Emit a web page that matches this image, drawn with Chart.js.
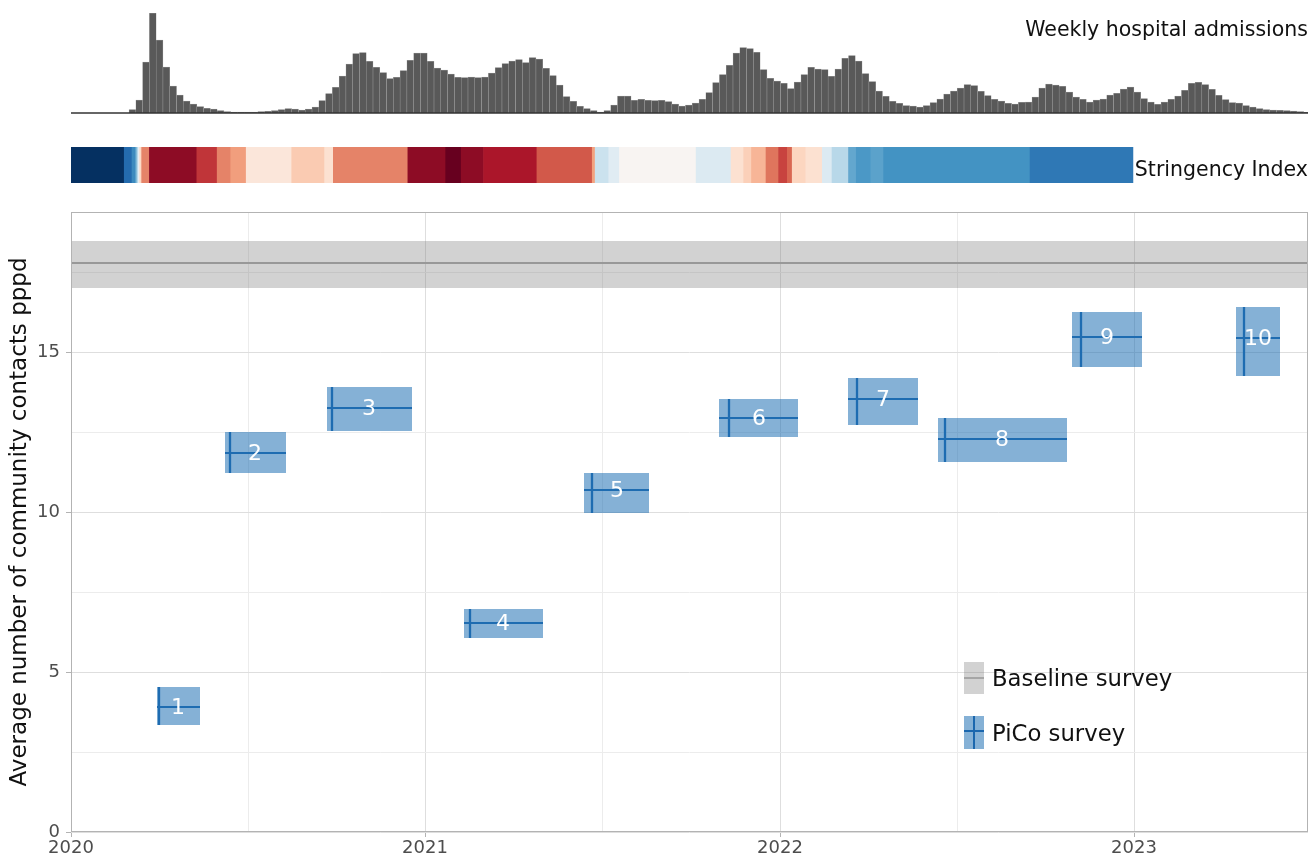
<!DOCTYPE html>
<html>
<head>
<meta charset="utf-8">
<script src="https://cdn.jsdelivr.net/npm/chart.js@4.4.1/dist/chart.umd.min.js"></script>
<style>
html,body{margin:0;padding:0;background:#fff;}
#wrap{position:relative;width:1312px;height:859px;overflow:hidden;font-family:'DejaVu Sans',sans-serif;}
#wrap canvas{position:absolute;left:0;}
.lbl{position:absolute;white-space:nowrap;line-height:1;color:#111;}
.glyph{position:absolute;}
</style>
</head>
<body>
<div id="wrap">
  <canvas id="hist" width="1312" height="120" style="top:0px"></canvas>
  <canvas id="strip" width="1312" height="50" style="top:140px"></canvas>
  <canvas id="main" width="1312" height="659" style="top:200px"></canvas>
  <div class="lbl" style="right:4px;top:19.4px;font-size:20.5px">Weekly hospital admissions</div>
  <div class="lbl" style="right:4px;top:158.7px;font-size:20.5px">Stringency Index</div>
  <div class="glyph" style="left:964px;top:662px;width:20px;height:32px;background:rgba(127,127,127,0.35)">
    <div style="position:absolute;left:0;top:15px;width:20px;height:2px;background:#a6a6a6"></div>
  </div>
  <div class="lbl" style="left:992px;top:667px;font-size:22.75px">Baseline survey</div>
  <div class="glyph" style="left:964px;top:716px;width:20px;height:33px;background:rgba(33,113,181,0.55)">
    <div style="position:absolute;left:0;top:14px;width:20px;height:2px;background:#1b67ae"></div>
    <div style="position:absolute;left:8.6px;top:0;width:2.2px;height:33px;background:#1b67ae"></div>
  </div>
  <div class="lbl" style="left:992px;top:722px;font-size:22.75px">PiCo survey</div>
</div>
<script>
// ---------------- DATA ----------------
// Weekly hospital admissions (relative units), weeks starting Sunday 2019-12-29
const firstWeekStart = '2019-12-29';
const admissions = [
  0,0,0,0,0,0,0,0,0,3.3,
  13,51,100,73,46,27,18,12,9,6.3,
  4.7,4,2.3,1.3,1,1,1,1,1.3,1.7,
  2.3,3.3,4.3,4,3,4,6,12.3,19.3,25.7,
  37,49,59.3,60.3,51.7,45.7,40.3,34.3,35.7,42.3,
  52.7,60,60,51.7,45,43,39,35.7,35.5,36,
  35.5,36,40,45.3,49.3,52,53.3,50.3,55.3,54,
  44.7,37.3,28,16.3,11.7,6.7,4.3,2.3,1,2.3,
  8,17,17,12.7,13.7,12.7,12.3,12.7,11.3,9,
  7,8,10,13.7,20.3,30.3,38.3,47.7,60,65.3,
  64.3,60.7,43.3,34.7,32,29.7,24.3,31,38.3,45.7,
  44,43.3,36.7,44,54.7,57.3,52,39.3,31.5,22,
  16.7,11.7,9.7,7.3,7,6,7.3,10.3,14,19,
  22,25,28.3,27.3,21.7,17.3,13.7,12,9.7,9,
  10.7,11,16,25,29,28,26.7,21,16,13.7,
  11,13,14,18,19.7,24,26,21,14.3,11,
  8.7,11,13.7,17,22.7,29.7,30.7,28.3,23.7,17.7,
  13.3,10.3,10,7.3,6,4.3,3.3,3,2.7,2.3,
  2,1.3,0.7
];

// Stringency index periods (start dates) and values, last period ends at stringencyEnd
const stringencyStart = [
  '2020-01-01','2020-02-25','2020-03-04','2020-03-08','2020-03-10','2020-03-12','2020-03-14','2020-03-22',
  '2020-05-10','2020-05-31','2020-06-14','2020-06-30','2020-08-16','2020-09-19','2020-09-28','2020-12-14',
  '2021-01-22','2021-02-07','2021-03-02','2021-04-26','2021-06-22','2021-06-25','2021-07-09','2021-07-20',
  '2021-10-07','2021-11-12','2021-11-25','2021-12-03','2021-12-18','2021-12-31','2022-01-09','2022-01-14',
  '2022-01-28','2022-02-14','2022-02-24','2022-03-13','2022-03-21','2022-04-05','2022-04-18','2022-09-16'
];
const stringencyValue = [
  0,11,18,28,45,60,75,95,
  86,75,71,56,63,58,75,95,
  100,95,91,81,70.5,39,44,51,
  43,58,62,67,77,84,79,61,
  58,43,36,24,21,23,20,14
];
const stringencyEnd = '2022-12-31';

// PiCo survey rounds
const rounds = ['1','2','3','4','5','6','7','8','9','10'];
const roundStart = ['2020-03-30','2020-06-08','2020-09-21','2021-02-10','2021-06-14','2021-10-31','2022-03-12','2022-06-13','2022-10-29','2023-04-16'];
const roundEnd   = ['2020-05-13','2020-08-10','2020-12-18','2021-05-02','2021-08-19','2022-01-20','2022-05-24','2022-10-24','2023-01-09','2023-06-01'];
const roundMark  = ['2020-04-01','2020-06-13','2020-09-27','2021-02-16','2021-06-22','2021-11-10','2022-03-22','2022-06-20','2022-11-08','2023-04-24'];
const meanContacts = [3.91, 11.85, 13.25, 6.54, 10.69, 12.93, 13.54, 12.27, 15.46, 15.44];
const ciLow        = [3.34, 11.22, 12.54, 6.05,  9.96, 12.36, 12.73, 11.57, 14.53, 14.26];
const ciHigh       = [4.52, 12.50, 13.92, 6.97, 11.23, 13.54, 14.20, 12.95, 16.24, 16.42];

// Baseline survey
const baselineMean = 17.79;
const baselineLow = 17.00;
const baselineHigh = 18.48;

// Axis ticks
const xTickYears = [2020, 2021, 2022, 2023];
const yTickValues = [0, 5, 10, 15];
const xMin = 2020, xMax = 2023.4914;
const yMax = 19.38;

// ---------------- HELPERS ----------------
function yearFrac(t){
  const d = new Date(t); const y = d.getUTCFullYear();
  const a = Date.UTC(y,0,1), b = Date.UTC(y+1,0,1);
  return y + (t-a)/(b-a);
}
function toYear(s){ const [y,m,d] = s.split('-').map(Number); return yearFrac(Date.UTC(y,m-1,d)); }
const [fy,fm,fd] = firstWeekStart.split('-').map(Number);
const weekT0 = Date.UTC(fy,fm-1,fd);
const weekX = admissions.map((_,i)=> yearFrac(weekT0 + (i*7+3.5)*864e5));

const RdBu = ['#053061','#2166ac','#4393c3','#92c5de','#d1e5f0','#f7f7f7','#fddbc7','#f4a582','#d6604d','#b2182b','#67001f'];
function hex(c){ return [1,3,5].map(i=>parseInt(c.substr(i,2),16)); }
function colorScale(v){
  const p = Math.max(0,Math.min(100,v))/10; const i = Math.min(9, Math.floor(p)); const f = p - i;
  const a = hex(RdBu[i]), b = hex(RdBu[i+1]);
  const c = a.map((av,k)=>Math.round(av + (b[k]-av)*f));
  return 'rgb(' + c.join(',') + ')';
}

Chart.defaults.font.family = "'DejaVu Sans', sans-serif";
Chart.defaults.animation = false;
Chart.defaults.plugins.legend.display = false;
Chart.defaults.plugins.tooltip.enabled = false;
Chart.defaults.events = [];

// ---------------- HISTOGRAM ----------------
new Chart(document.getElementById('hist'), {
  type: 'bar',
  data: {
    datasets: [
      { type:'line', data:[{x:xMin,y:0},{x:xMax,y:0}], borderColor:'#333333', borderWidth:1.3, pointRadius:0, clip:4, order:0 },
      { data: admissions.map((v,i)=>({x:weekX[i], y:v})), backgroundColor:'#595959', borderColor:'#a3a3a3',
        borderWidth:0.5, borderSkipped:'start', barPercentage:1, categoryPercentage:1, order:1 }
    ]
  },
  options: {
    responsive:false,
    layout:{ padding:{ left:71, right:4, top:13, bottom:7 } },
    scales: {
      x:{ type:'linear', min:xMin, max:xMax, offset:false, display:false },
      y:{ min:0, max:100, display:false }
    }
  }
});

// ---------------- STRINGENCY STRIP ----------------
new Chart(document.getElementById('strip'), {
  type: 'bar',
  data: {
    labels: ['SI'],
    datasets: [{
      data: stringencyValue.map((v,i)=>({ y:'SI', x:[toYear(stringencyStart[i]), toYear(i+1<stringencyStart.length ? stringencyStart[i+1] : stringencyEnd)] })),
      backgroundColor: stringencyValue.map(colorScale),
      borderWidth:0, barPercentage:1, categoryPercentage:1
    }]
  },
  options: {
    indexAxis:'y', responsive:false,
    layout:{ padding:{ left:71, right:4, top:7, bottom:7 } },
    scales: {
      x:{ type:'linear', min:xMin, max:xMax, offset:false, display:false },
      y:{ type:'category', display:false }
    }
  }
});

// ---------------- MAIN PANEL ----------------
const boxFill = 'rgba(33,113,181,0.55)';
const lineBlue = '#1b67ae';
const datasets = [];
datasets.push({ data:[{x:xMin,y:baselineHigh},{x:xMax,y:baselineHigh}], fill:{value:baselineLow},
  backgroundColor:'rgba(127,127,127,0.35)', borderWidth:0, pointRadius:0 });
datasets.push({ data:[{x:xMin,y:baselineMean},{x:xMax,y:baselineMean}], fill:false,
  borderColor:'#a6a6a6', borderWidth:2, pointRadius:0 });
rounds.forEach((r,i)=>{
  datasets.push({ data:[{x:toYear(roundStart[i]),y:ciHigh[i]},{x:toYear(roundEnd[i]),y:ciHigh[i]}],
    fill:{value:ciLow[i]}, backgroundColor:boxFill, borderWidth:0, pointRadius:0 });
});
const meanPts = [], vPts = [];
rounds.forEach((r,i)=>{
  const s = toYear(roundStart[i]), e = toYear(roundEnd[i]), m = toYear(roundMark[i]);
  meanPts.push({x:s,y:meanContacts[i]},{x:e,y:meanContacts[i]},{x:e,y:null});
  vPts.push({x:m,y:ciLow[i]},{x:m,y:ciHigh[i]},{x:m,y:null});
});
datasets.push({ data:meanPts, fill:false, borderColor:lineBlue, borderWidth:2.1, pointRadius:0, spanGaps:false });
datasets.push({ data:vPts, fill:false, borderColor:lineBlue, borderWidth:2.3, pointRadius:0, spanGaps:false });

const boxLabels = {
  id:'boxLabels',
  afterDatasetsDraw(chart){
    const {ctx, scales:{x,y}} = chart;
    ctx.save();
    ctx.fillStyle = '#ffffff';
    ctx.font = "22px 'DejaVu Sans'";
    ctx.textAlign = 'center'; ctx.textBaseline = 'middle';
    rounds.forEach((r,i)=>{
      const cx = x.getPixelForValue((toYear(roundStart[i]) + toYear(roundEnd[i]))/2);
      const cy = y.getPixelForValue(meanContacts[i]);
      ctx.fillText(r, cx, cy + 1);
    });
    ctx.restore();
  }
};
const panelBorder = {
  id:'panelBorder',
  afterDraw(chart){
    const {ctx, chartArea:a} = chart;
    ctx.save(); ctx.strokeStyle = '#b3b3b3'; ctx.lineWidth = 1;
    ctx.strokeRect(Math.round(a.left)+0.5, Math.round(a.top)+0.5, Math.round(a.right-a.left)-1, Math.round(a.bottom-a.top)-1);
    ctx.restore();
  }
};
const isMajorX = v => xTickYears.includes(v);
const isMajorY = v => yTickValues.includes(v);

new Chart(document.getElementById('main'), {
  type:'line',
  data:{ datasets },
  options:{
    responsive:false,
    layout:{ padding:{ left:0, right:4, top:12, bottom:0 } },
    scales:{
      x:{
        type:'linear', min:xMin, max:xMax, offset:false, alignToPixels:true,
        afterBuildTicks: s => { const t=[]; xTickYears.forEach(v=>{ t.push({value:v}); if (v+0.5 < xMax) t.push({value:v+0.5}); }); s.ticks = t; },
        afterFit: s => { s.height = 27; s.paddingLeft = 0; s.paddingRight = 0; },
        grid:{ color: c => isMajorX(c.tick.value) ? '#dedede' : '#ececec', lineWidth:1, tickLength:5,
               tickColor: c => isMajorX(c.tick.value) ? '#b3b3b3' : 'rgba(0,0,0,0)' },
        border:{ display:false },
        ticks:{ autoSkip:false, maxRotation:0, padding:1, color:'#4d4d4d', font:{ size:18 },
                callback: v => isMajorX(v) ? String(v) : '' }
      },
      y:{
        min:0, max:yMax, alignToPixels:true,
        afterBuildTicks: s => { const t=[]; yTickValues.forEach(v=>{ t.push({value:v}); if (v+2.5 < yMax) t.push({value:v+2.5}); }); s.ticks = t; },
        afterFit: s => { s.width = 71; s.paddingTop = 0; s.paddingBottom = 0; },
        grid:{ color: c => isMajorY(c.tick.value) ? '#dedede' : '#ececec', lineWidth:1, tickLength:5,
               tickColor: c => isMajorY(c.tick.value) ? '#b3b3b3' : 'rgba(0,0,0,0)' },
        border:{ display:false },
        ticks:{ padding:6, color:'#4d4d4d', font:{ size:18 },
                callback: v => isMajorY(v) ? String(v) : '' },
        title:{ display:true, text:'Average number of community contacts pppd', color:'#111', font:{ size:23 }, padding:{ top:6, bottom:0 } }
      }
    }
  },
  plugins:[boxLabels, panelBorder]
});
</script>
</body>
</html>
